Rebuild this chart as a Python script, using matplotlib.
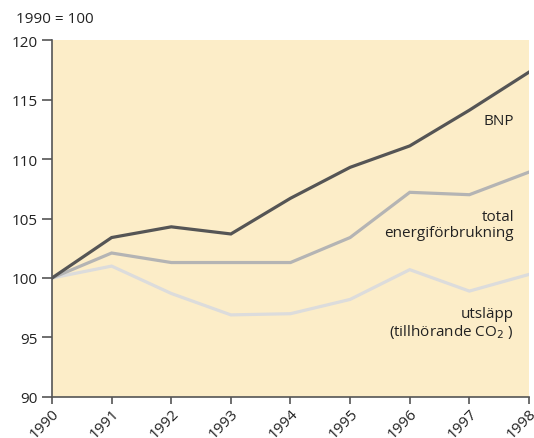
import matplotlib
matplotlib.use("Agg")
import matplotlib.pyplot as plt

plt.rcParams['font.family'] = ['Open Sans', 'DejaVu Sans']

years = [1990, 1991, 1992, 1993, 1994, 1995, 1996, 1997, 1998]
bnp = [100, 103.4, 104.3, 103.7, 106.7, 109.3, 111.1, 114.1, 117.3]
energi = [100, 102.1, 101.3, 101.3, 101.3, 103.4, 107.2, 107.0, 108.9]
utslapp = [100, 101.0, 98.7, 96.9, 97.0, 98.2, 100.7, 98.9, 100.3]

fig = plt.figure(figsize=(5.34, 4.39), dpi=100)
ax = fig.add_axes([0.0974, 0.0934, 0.8932, 0.8132])
ax.set_facecolor('#fcedc8')

ax.plot(years, utslapp, color='#dcdcdc', lw=2.3, solid_joinstyle='miter')
ax.plot(years, energi, color='#b4b4b4', lw=2.3, solid_joinstyle='miter')
ax.plot(years, bnp, color='#555555', lw=2.3, solid_joinstyle='miter')

ax.set_xlim(1990, 1998)
ax.set_ylim(90, 120)
ax.set_xticks(years)
ax.set_xticklabels([str(y) for y in years], rotation=45, ha='right', rotation_mode='anchor')
ax.set_yticks(range(90, 121, 5))

for s in ['top', 'right']:
    ax.spines[s].set_visible(False)
for s in ['left', 'bottom']:
    ax.spines[s].set_color('#555555')
    ax.spines[s].set_linewidth(1.2)
ax.tick_params(direction='out', width=1.2, color='#555555',
               labelsize=11, labelcolor='#222222')
ax.tick_params(axis='y', length=7, pad=3)
ax.tick_params(axis='x', length=5, pad=1)

fig.text(0.03, 0.955, '1990 = 100', fontsize=11, color='#222222', va='center')

ax.text(1997.75, 113.2, 'BNP', fontsize=11, color='#222222', ha='right', va='center')
ax.text(1997.75, 104.5, 'total\nenergiförbrukning', fontsize=11, color='#222222',
        ha='right', va='center', linespacing=1.1)
ax.text(1997.75, 96.2, 'utsläpp\n(tillhörande CO$_2$ )', fontsize=11, color='#222222',
        ha='right', va='center', linespacing=1.1)

fig.savefig('out.png', dpi=100)
